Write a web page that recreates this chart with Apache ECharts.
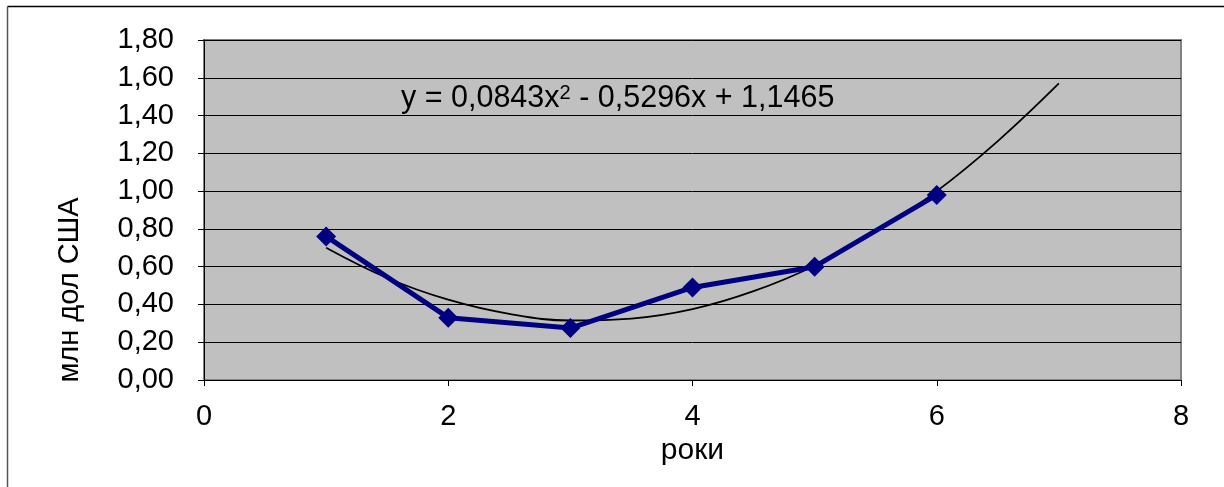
<!DOCTYPE html>
<html>
<head>
<meta charset="utf-8">
<script src="https://cdn.jsdelivr.net/npm/echarts@6/dist/echarts.min.js"></script>
<style>
html,body{margin:0;padding:0;background:#fff;}
#chart{width:1224px;height:487px;}
</style>
</head>
<body>
<div id="chart"></div>
<script>
// Data
const years = [1, 2, 3, 4, 5, 6];
const values = [0.76, 0.33, 0.275, 0.49, 0.60, 0.98];
// Trend curve
const trendX = [1, 1.5, 2, 2.5, 3, 3.5, 4, 4.5, 5, 5.5, 6, 6.5, 7];
const trendY = [0.70, 0.54, 0.425, 0.35, 0.315, 0.325, 0.375, 0.47, 0.605, 0.785, 1.00, 1.265, 1.57];
const equationParts = ['y = 0,0843x', '2', ' - 0,5296x + 1,1465'];
const xAxisTitle = 'роки';
const yAxisTitle = 'млн дол США';

const font = '"Liberation Sans", Arial, sans-serif';
const chart = echarts.init(document.getElementById('chart'), null, {renderer: 'canvas'});

const option = {
  backgroundColor: '#ffffff',
  animation: false,
  grid: {
    left: 204, right: 43, top: 40, bottom: 107,
    show: true, backgroundColor: '#c0c0c0', borderColor: '#808080', borderWidth: 2
  },
  xAxis: {
    type: 'value', min: 0, max: 8, interval: 2,
    axisLine: {show: true, onZero: false, lineStyle: {color: '#000', width: 1}},
    axisTick: {show: true, length: 6, lineStyle: {color: '#000'}},
    axisLabel: {margin: 22, fontSize: 29, color: '#000', fontFamily: font,
      formatter: v => String(v)},
    splitLine: {show: false},
    name: xAxisTitle, nameLocation: 'middle', nameGap: 56,
    nameTextStyle: {fontSize: 30, color: '#000', fontFamily: font}
  },
  yAxis: {
    type: 'value', min: 0, max: 1.8, interval: 0.2,
    axisLine: {show: true, lineStyle: {color: '#000', width: 1}},
    axisTick: {show: true, length: 6, lineStyle: {color: '#000'}},
    axisLabel: {margin: 30, fontSize: 29, color: '#000', fontFamily: font,
      formatter: v => v.toFixed(2).replace('.', ',')},
    splitLine: {show: true, lineStyle: {color: '#000', width: 1}}
  },
  series: [
    {
      type: 'line',
      data: trendX.map((x, i) => [x, trendY[i]]),
      smooth: 0.4,
      showSymbol: false,
      symbol: 'none',
      lineStyle: {color: '#000', width: 1.8},
      z: 3
    },
    {
      type: 'line',
      data: years.map((x, i) => [x, values[i]]),
      symbol: 'diamond',
      symbolSize: 20,
      itemStyle: {color: '#000080'},
      lineStyle: {color: '#000080', width: 5},
      z: 4
    }
  ],
  graphic: [
    {type: 'line', shape: {x1: 7.5, y1: 6.5, x2: 1224, y2: 6.5}, style: {stroke: '#000', lineWidth: 1.5}},
    {type: 'line', shape: {x1: 7.5, y1: 6.5, x2: 7.5, y2: 487}, style: {stroke: '#555', lineWidth: 1.5}},
    {type: 'text', x: 401, y: 99, z: 10,
      style: {
        text: '{n|' + equationParts[0] + '}{s|' + equationParts[1] + '}{n|' + equationParts[2] + '}',
        verticalAlign: 'middle',
        rich: {
          n: {fontSize: 30.5, fill: '#000', fontFamily: font, verticalAlign: 'middle'},
          s: {fontSize: 20, fill: '#000', fontFamily: font, verticalAlign: 'top'}
        }
      }},
    {type: 'text', x: 70, y: 290, rotation: Math.PI / 2, z: 10,
      style: {text: yAxisTitle, fontSize: 29, fill: '#000', fontFamily: font,
        align: 'center', verticalAlign: 'middle'}}
  ]
};
chart.setOption(option);
</script>
</body>
</html>
